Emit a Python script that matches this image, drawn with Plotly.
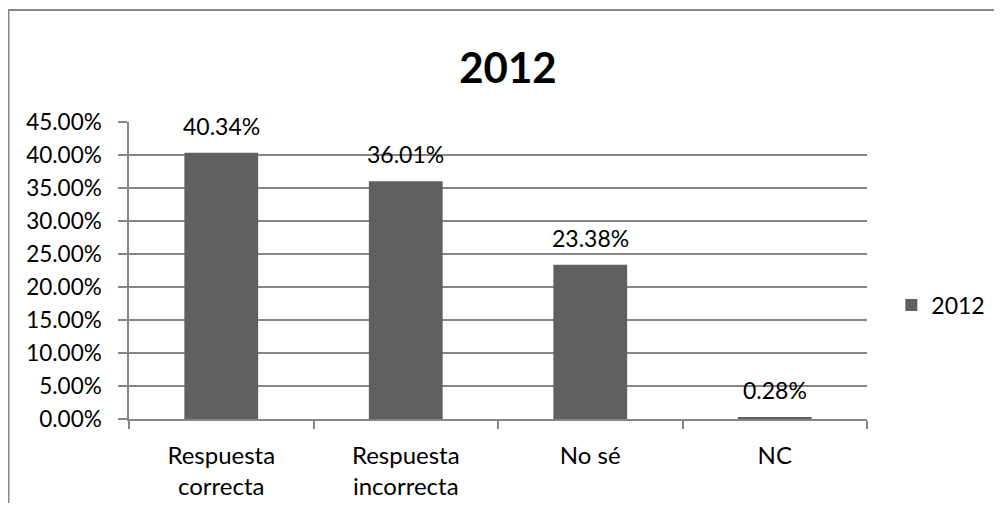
import plotly.graph_objects as go

categories = ["Respuesta<br>correcta", "Respuesta<br>incorrecta", "No sé", "NC"]
values = [0.4034, 0.3601, 0.2338, 0.0028]
labels = ["40.34%", "36.01%", "23.38%", "0.28%"]
series_name = "2012"
y_ticks = [i * 0.05 for i in range(10)]

FONT = "Lato"
GRID = "#868686"

fig = go.Figure()
fig.add_trace(go.Bar(
    x=categories, y=values, name=series_name,
    marker=dict(color="#606060", line=dict(width=0)),
    showlegend=True,
))

for c, v, t in zip(categories, values, labels):
    fig.add_annotation(x=c, y=v, text=t, showarrow=False, yanchor="middle", yshift=27,
                       font=dict(family=FONT, size=23, color="#000000"))

fig.update_layout(
    width=986, height=495,
    margin=dict(l=121, r=127, t=114, b=84, autoexpand=False),
    paper_bgcolor="white", plot_bgcolor="white",
    bargap=0.6,
    title=dict(text="<b>2012</b>", x=0.507, xanchor="center", y=0.879, yanchor="middle",
               font=dict(family=FONT, size=42, color="#000000")),
    font=dict(family=FONT, size=23, color="#000000"),
    showlegend=True,
    legend=dict(x=1.033, xanchor="left", y=0.384, yanchor="middle",
                font=dict(family=FONT, size=23), bgcolor="rgba(0,0,0,0)"),
    xaxis=dict(showline=True, linecolor=GRID, linewidth=1.5, automargin=False,
               ticks="outside", tickson="boundaries", ticklen=8, tickcolor=GRID, tickwidth=1.5,
               tickfont=dict(family=FONT, size=24), showgrid=False, ticklabelstandoff=14),
    yaxis=dict(range=[0, 0.45], tickvals=y_ticks, tickformat=".2%", automargin=False,
               showgrid=True, gridcolor=GRID, gridwidth=1.5,
               showline=True, linecolor=GRID, linewidth=1.5,
               ticks="outside", ticklen=9, tickcolor=GRID, tickwidth=1.5,
               tickfont=dict(family=FONT, size=22.5), zeroline=False, ticklabelstandoff=12),
    shapes=[dict(type="rect", xref="paper", yref="paper",
                 x0=-0.1633, x1=1.25, y0=-0.35, y1=1.3771,
                 line=dict(color=GRID, width=2), fillcolor="rgba(0,0,0,0)", layer="below")],
)

fig.write_html("out.html")
